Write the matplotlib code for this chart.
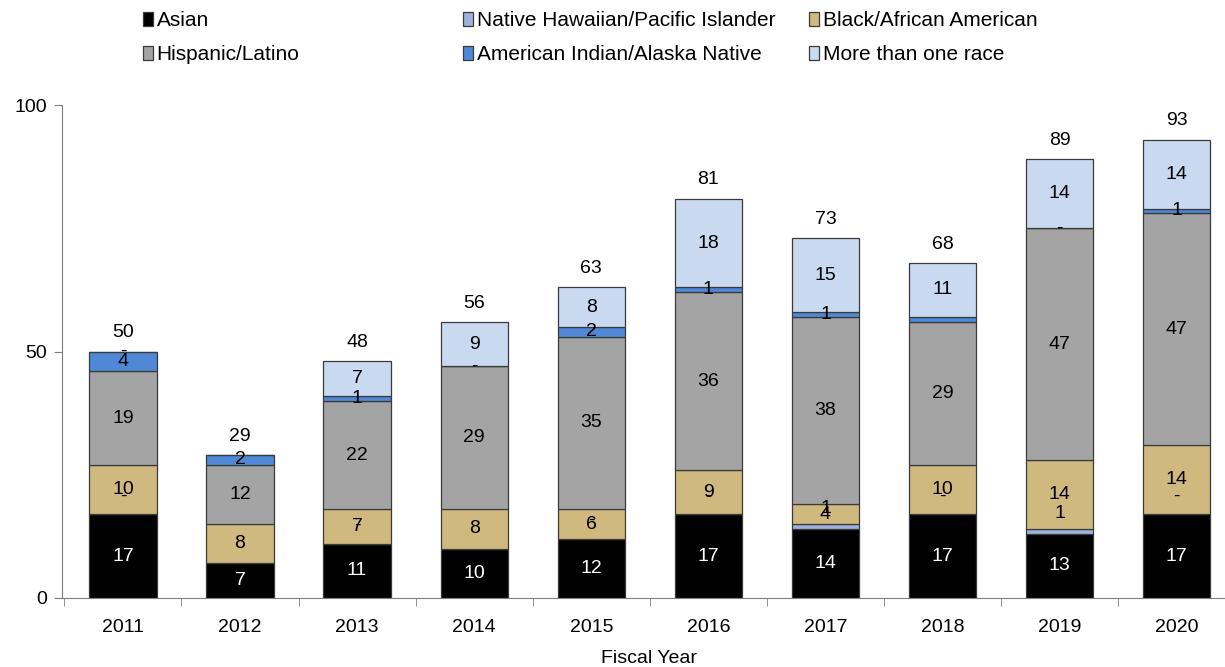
import matplotlib.pyplot as plt
import numpy as np

plt.rcParams['font.family'] = ['Liberation Sans', 'DejaVu Sans']

# data (counts by fiscal year)
years = ['2011', '2012', '2013', '2014', '2015', '2016', '2017', '2018', '2019', '2020']
asian = [17, 7, 11, 10, 12, 17, 14, 17, 13, 17]
nhpi = [0, 0, 0, 0, 0, 0, 1, 0, 1, 0]
black = [10, 8, 7, 8, 6, 9, 4, 10, 14, 14]
hispanic = [19, 12, 22, 29, 35, 36, 38, 29, 47, 47]
aian = [4, 2, 1, 0, 2, 1, 1, 1, 0, 1]
multi = [0, 0, 7, 9, 8, 18, 15, 11, 14, 14]

series = [
    ('Asian', asian, '#000000', 'white', 0),
    ('Native Hawaiian/Pacific Islander', nhpi, '#9db2dc', 'black', 13),
    ('Black/African American', black, '#cfb97f', 'black', 0),
    ('Hispanic/Latino', hispanic, '#a3a4a3', 'black', 0),
    ('American Indian/Alaska Native', aian, '#4f88d6', 'black', 0),
    ('More than one race', multi, '#c8d9f0', 'black', 0),
]
# labels that are not shown in the original
hidden = {('American Indian/Alaska Native', 7), ('More than one race', 1),
          ('Native Hawaiian/Pacific Islander', 1), ('Native Hawaiian/Pacific Islander', 3)}

fs = 14
fig = plt.figure(figsize=(12.25, 6.67), dpi=100)
ax = fig.add_axes([62 / 1225, 1 - 598 / 667, 10.02 * 117.1 / 1225, 493 / 667])

x = np.arange(len(years))
bottom = np.zeros(len(years))
handles = {}
for name, vals, color, tcolor, shift in series:
    vals = np.array(vals)
    bars = ax.bar(x, vals, 0.575, bottom=bottom, color=color,
                  edgecolor='#3a3a3a', linewidth=0.9, label=name)
    handles[name] = bars
    for i, v in enumerate(vals):
        if (name, i) in hidden:
            continue
        txt = '-' if v == 0 else str(v)
        ax.annotate(txt, (x[i], bottom[i] + v / 2), xytext=(0, shift),
                    textcoords='offset points', ha='center', va='center',
                    fontsize=fs, color=tcolor)
    bottom = bottom + vals

# totals above bars
for i, t in enumerate(bottom):
    ax.annotate('%d' % t, (x[i], t), xytext=(0, 13.5), textcoords='offset points',
                ha='center', va='center', fontsize=fs)

ax.set_xlim(-0.52, 9.5)
ax.set_ylim(0, 100)
ax.set_yticks([0, 50, 100])
ax.set_xticks(x)
ax.set_xticklabels(years)
ax.set_xticks(np.arange(-0.5, 9.6, 1), minor=True)
ax.tick_params(axis='x', which='major', length=0, pad=15, labelsize=fs)
ax.tick_params(axis='x', which='minor', length=6, color='#7f7f7f', direction='out')
ax.tick_params(axis='y', length=6, color='#7f7f7f', labelsize=fs, pad=5)
ax.set_xlabel('Fiscal Year', fontsize=fs, labelpad=10)
for s in ['top', 'right']:
    ax.spines[s].set_visible(False)
for s in ['left', 'bottom']:
    ax.spines[s].set_color('#7f7f7f')

# legend: three columns placed separately to keep the original spacing
cols = [
    (['Asian', 'Hispanic/Latino'], 143),
    (['Native Hawaiian/Pacific Islander', 'American Indian/Alaska Native'], 463),
    (['Black/African American', 'More than one race'], 809),
]
for names, xpx in cols:
    leg = fig.legend([handles[n] for n in names], names, loc='upper left',
                     bbox_to_anchor=(xpx / 1225, 1 - 11 / 667), frameon=False,
                     fontsize=15, handlelength=0.5, handleheight=0.65,
                     handletextpad=0.15, labelspacing=0.72, borderpad=0,
                     borderaxespad=0)
    for h in leg.legend_handles:
        h.set_edgecolor('#3a3a3a')

fig.savefig('out.png', dpi=100)
